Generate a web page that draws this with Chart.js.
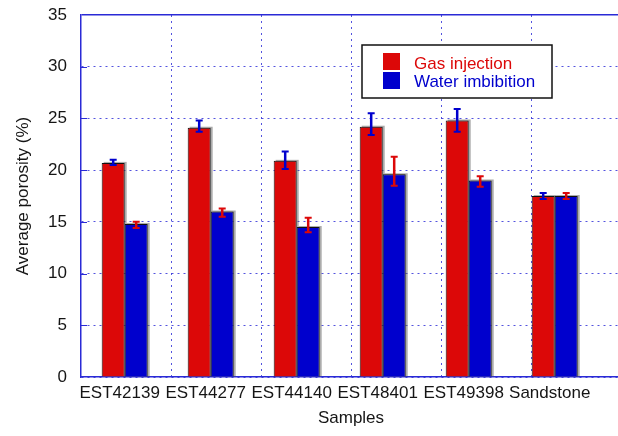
<!DOCTYPE html>
<html><head><meta charset="utf-8">
<script src="https://cdn.jsdelivr.net/npm/chart.js@4/dist/chart.umd.min.js"></script>
<style>html,body{margin:0;padding:0;overflow:hidden;background:#fff;width:618px;height:436px}
#wrap{position:relative;width:640px;height:436px}</style>
</head><body><div id="wrap"><canvas id="c" width="640" height="436"></canvas></div>
<script>
const categories = ['EST42139', 'EST44277', 'EST44140', 'EST48401', 'EST49398', 'Sandstone'];
const gasInjection = [20.7, 24.1, 20.9, 24.2, 24.8, 17.5];
const gasLow  = [20.5, 23.7, 20.1, 23.4, 23.7, 17.2];
const gasHigh = [21.0, 24.8, 21.8, 25.5, 25.9, 17.8];
const waterImbibition = [14.8, 16.0, 14.5, 19.6, 19.0, 17.5];
const waterLow  = [14.4, 15.5, 14.0, 18.5, 18.4, 17.2];
const waterHigh = [15.0, 16.3, 15.4, 21.3, 19.4, 17.8];
const yTicks = [0, 5, 10, 15, 20, 25, 30, 35];
const seriesNames = ['Gas injection', 'Water imbibition'];

const RED = '#dc0808', BLUE = '#0000cd';
const AXIS = '#2a2ad6', GRID = 'rgba(40,40,215,0.8)';
const FONT = {family: '"Liberation Sans", Arial, sans-serif', size: 17};
const TXT = '#151515';

function noPad(s) { s.paddingLeft = 0; s.paddingRight = 0; s.paddingTop = 0; s.paddingBottom = 0; }

const decor = {
  id: 'decor',
  beforeDatasetsDraw(chart) {
    const ctx = chart.ctx, y = chart.scales.y, left = chart.chartArea.left;
    ctx.save();
    ctx.strokeStyle = AXIS; ctx.lineWidth = 1;
    y.ticks.forEach(t => {
      if (t.value > 0 && t.value < 35) {
        const py = Math.round(y.getPixelForValue(t.value)) + 0.5;
        ctx.beginPath(); ctx.moveTo(left, py); ctx.lineTo(left + 6, py); ctx.stroke();
      }
    });
    ctx.fillStyle = 'rgba(90,90,90,0.5)';
    chart.data.datasets.forEach((ds, di) => {
      chart.getDatasetMeta(di).data.forEach(bar => {
        const w = bar.width;
        ctx.fillRect(bar.x - w / 2 + 2, bar.y - 1, w, bar.base - bar.y + 1);
      });
    });
    ctx.restore();
  },
  afterDatasetsDraw(chart) {
    const ctx = chart.ctx, y = chart.scales.y;
    ctx.save();
    chart.data.datasets.forEach((ds, di) => {
      chart.getDatasetMeta(di).data.forEach((bar, i) => {
        const yl = y.getPixelForValue(ds.errLow[i]);
        const yh = y.getPixelForValue(ds.errHigh[i]);
        ctx.strokeStyle = ds.errColor;
        ctx.lineWidth = 2.5;
        ctx.beginPath(); ctx.moveTo(bar.x, yl); ctx.lineTo(bar.x, yh); ctx.stroke();
        ctx.lineWidth = 2;
        ctx.beginPath();
        ctx.moveTo(bar.x - 3.5, yl); ctx.lineTo(bar.x + 3.5, yl);
        ctx.moveTo(bar.x - 3.5, yh); ctx.lineTo(bar.x + 3.5, yh);
        ctx.stroke();
      });
    });
    ctx.restore();
  },
  afterDraw(chart) {
    const ctx = chart.ctx;
    ctx.save();
    ctx.fillStyle = '#fff';
    ctx.fillRect(362, 45, 190, 53);
    ctx.strokeStyle = '#111'; ctx.lineWidth = 1.5;
    ctx.strokeRect(362, 45, 190, 53);
    const cols = [RED, BLUE];
    ctx.font = '17px "Liberation Sans", Arial, sans-serif';
    ctx.textBaseline = 'alphabetic';
    seriesNames.forEach((n, i) => {
      ctx.fillStyle = cols[i];
      ctx.fillRect(383, 53 + i * 19, 17, 17);
      ctx.fillText(n, 414, 69 + i * 18);
    });
    ctx.restore();
  }
};

new Chart(document.getElementById('c'), {
  type: 'bar',
  data: {
    datasets: [
      {label: seriesNames[0], xAxisID: 'x', yAxisID: 'y',
       data: gasInjection.map((v, i) => ({x: i, y: v})),
       backgroundColor: RED, borderColor: '#111', borderWidth: 1,
       errLow: gasLow, errHigh: gasHigh, errColor: BLUE},
      {label: seriesNames[1], xAxisID: 'x', yAxisID: 'y',
       data: waterImbibition.map((v, i) => ({x: i, y: v})),
       backgroundColor: BLUE, borderColor: '#111', borderWidth: 1,
       errLow: waterLow, errHigh: waterHigh, errColor: RED}
    ]
  },
  options: {
    responsive: false, animation: false, devicePixelRatio: 1,
    layout: {padding: {top: 15, right: 19, left: 0, bottom: 0}},
    datasets: {bar: {categoryPercentage: 0.535, barPercentage: 1}},
    plugins: {legend: {display: false}, tooltip: {enabled: false}},
    scales: {
      x: {
        type: 'linear', position: 'bottom', min: -0.508, max: 5.771, bounds: 'data', offset: false,
        grid: {display: false, drawTicks: false, offset: false},
        border: {display: true, color: AXIS, width: 1.5},
        afterBuildTicks: s => { s.ticks = categories.map((_, i) => ({value: i})); },
        ticks: {font: FONT, color: TXT, padding: 6, labelOffset: -5, autoSkip: false, maxRotation: 0,
                callback: v => categories[v] !== undefined ? categories[v] : ''},
        title: {display: true, text: 'Samples', font: FONT, color: TXT, padding: {top: 0, bottom: 7}},
        afterFit: s => { s.height = 59; noPad(s); }
      },
      xg: {
        type: 'linear', position: 'bottom', min: 0, max: 6, bounds: 'data', offset: false,
        afterBuildTicks: s => { s.ticks = [1, 2, 3, 4, 5].map(v => ({value: v})); },
        ticks: {display: false},
        grid: {display: true, drawTicks: false, offset: false, color: GRID, lineWidth: 1},
        border: {display: false, dash: [2, 4]},
        afterFit: s => { s.height = 0; noPad(s); }
      },
      y: {
        min: 0, max: 35,
        afterBuildTicks: s => { s.ticks = yTicks.map(v => ({value: v})); },
        ticks: {font: FONT, color: TXT, padding: 14},
        grid: {drawTicks: false,
               color: c => (c.tick && c.tick.value === 35) ? AXIS : GRID,
               lineWidth: c => (c.tick && c.tick.value === 35) ? 1.5 : 1},
        border: {display: true, color: AXIS, width: 1.5,
                 dash: c => (c.tick && c.tick.value === 35) ? [] : [2, 4]},
        title: {display: true, text: 'Average porosity (%)', font: FONT, color: TXT, padding: {top: 13, bottom: 0}},
        afterFit: s => { s.width = 81; noPad(s); }
      }
    }
  },
  plugins: [decor]
});
</script></body></html>
